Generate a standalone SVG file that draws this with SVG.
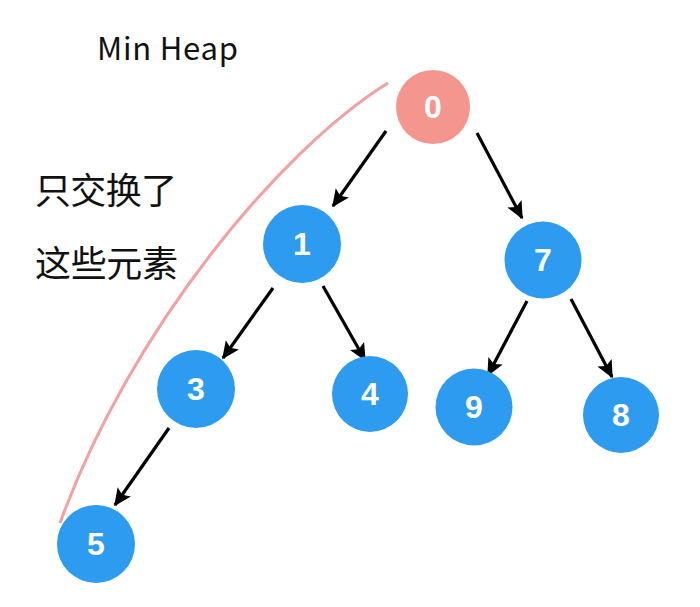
<svg xmlns="http://www.w3.org/2000/svg" width="700" height="607" viewBox="0 0 700 607">
<defs>
<style>
.n{fill:#2D9BF0}
.r{fill:#F4968E}
.t{fill:#fff;font-family:"Liberation Sans",Arial,sans-serif;font-weight:bold;font-size:32px;text-anchor:middle}
.e{stroke:#000;stroke-width:3.2;fill:none;marker-end:url(#a)}
.h{font-family:"Noto Sans CJK SC","Noto Sans",sans-serif;font-weight:400;fill:#111}
</style>
<marker id="a" viewBox="0 0 12 12" refX="11" refY="6" markerWidth="5.5" markerHeight="5.5" markerUnits="strokeWidth" orient="auto">
<path d="M0,0.5 L12,6 L0,11.5 L2.5,6 Z" fill="#000"/>
</marker>
</defs>
<rect width="700" height="607" fill="#fff"/>
<path d="M388,83 C280,150 130,330 60,523" stroke="#F2A0A0" stroke-width="3" fill="none"/>
<text class="h" x="97" y="60" font-size="31" textLength="141">Min Heap</text>
<text class="h" x="35" y="204" font-size="36" textLength="142">只交换了</text>
<text class="h" x="35" y="277" font-size="36" textLength="143">这些元素</text>
<g id="edges">
<line class="e" x1="386" y1="131" x2="333" y2="206"/>
<line class="e" x1="477" y1="133" x2="522" y2="218"/>
<line class="e" x1="273" y1="288" x2="223" y2="358"/>
<line class="e" x1="323" y1="286" x2="365" y2="360"/>
<line class="e" x1="169" y1="428" x2="115" y2="505"/>
<line class="e" x1="527" y1="301" x2="488" y2="375"/>
<line class="e" x1="571" y1="299" x2="612" y2="377"/>
</g>
<g id="n0"><circle class="r" cx="433" cy="107" r="37"/><text class="t" x="433" y="118">0</text></g>
<g id="n1"><circle class="n" cx="302" cy="244" r="39"/><text class="t" x="302" y="255">1</text></g>
<g id="n7"><circle class="n" cx="543" cy="260" r="38.5"/><text class="t" x="543" y="271">7</text></g>
<g id="n3"><circle class="n" cx="196" cy="389" r="39"/><text class="t" x="196" y="400">3</text></g>
<g id="n4"><circle class="n" cx="370" cy="394" r="38"/><text class="t" x="370" y="405">4</text></g>
<g id="n9"><circle class="n" cx="474" cy="407" r="38.5"/><text class="t" x="474" y="418">9</text></g>
<g id="n8"><circle class="n" cx="621" cy="415" r="38"/><text class="t" x="621" y="426">8</text></g>
<g id="n5"><circle class="n" cx="96" cy="544" r="39"/><text class="t" x="96" y="555">5</text></g>
</svg>
